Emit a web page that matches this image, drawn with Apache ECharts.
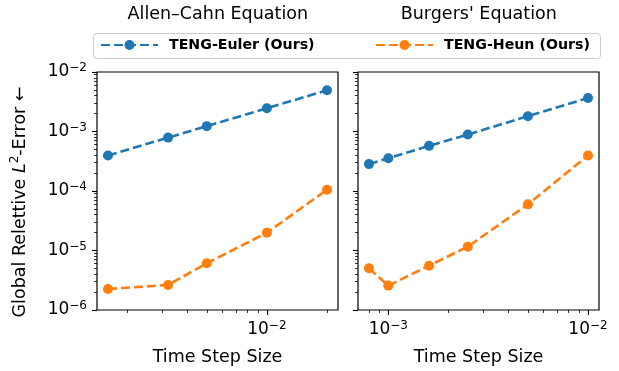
<!DOCTYPE html>
<html>
<head>
<meta charset="utf-8">
<script src="https://cdn.jsdelivr.net/npm/echarts@6/dist/echarts.min.js"></script>
<style>
  html, body { margin: 0; padding: 0; background: #fff; }
  #chart { width: 619px; height: 371px; }
</style>
</head>
<body>
<div id="chart"></div>
<script>
// 数据
var titles = ['Allen\u2013Cahn Equation', "Burgers' Equation"];
var seriesNames = ['TENG-Euler (Ours)', 'TENG-Heun (Ours)'];

// Allen-Cahn
var acSteps = [0.0016, 0.0032, 0.005, 0.01, 0.02];
var acEuler = [3.95e-4, 7.9e-4, 1.23e-3, 2.46e-3, 4.93e-3];
var acHeun = [2.26e-6, 2.64e-6, 6.1e-6, 1.99e-5, 1.05e-4];

// Burgers
var bgSteps = [0.0008, 0.001, 0.0016, 0.0025, 0.005, 0.01];
var bgEuler = [2.83e-4, 3.56e-4, 5.74e-4, 8.9e-4, 1.81e-3, 3.66e-3];
var bgHeun = [5.02e-6, 2.57e-6, 5.56e-6, 1.16e-5, 5.96e-5, 3.96e-4];

// 刻度
var acXMajor = [0.01];
var acXMinor = [0.002, 0.003, 0.004, 0.005, 0.006, 0.007, 0.008, 0.009, 0.02];
var bgXMajor = [0.001, 0.01];
var bgXMinor = [0.0008, 0.0009, 0.002, 0.003, 0.004, 0.005, 0.006, 0.007, 0.008, 0.009];
var yMajor = [1e-6, 1e-5, 1e-4, 1e-3, 1e-2];
var yMinor = [];
[1e-6, 1e-5, 1e-4, 1e-3].forEach(function (d) {
    for (var k = 2; k <= 9; k++) yMinor.push(+(k * d).toPrecision(3));
});

var colors = ['#1f77b4', '#ff7f0e'];
var font = 'DejaVu Sans';

function pairs(xs, ys) {
    return xs.map(function (x, i) { return [x, ys[i]]; });
}

function powLabel(v) {
    var e = Math.round(Math.log10(v));
    return '{b|10}{s|' + (e < 0 ? '\u2212' : '') + Math.abs(e) + '}';
}

var labelRich = {
    b: { fontFamily: font, fontSize: 17, color: '#000', lineHeight: 20 },
    s: { fontFamily: font, fontSize: 12, color: '#000', verticalAlign: 'top', lineHeight: 20, padding: [0, 0, 6, 0] }
};

var grids = [
    { left: 97, right: 281, top: 72, bottom: 61 },
    { left: 358, right: 20, top: 72, bottom: 61 }
];
grids.forEach(function (g) {
    g.show = true;
    g.borderColor = '#000';
    g.borderWidth = 1.2;
    g.backgroundColor = 'transparent';
});

function xAxes(gridIndex, min, max, major, minor) {
    return [{
        type: 'log', gridIndex: gridIndex, min: min, max: max, position: 'bottom',
        name: 'Time Step Size', nameLocation: 'middle', nameGap: 38,
        nameTextStyle: { fontFamily: font, fontSize: 17.5, color: '#000' },
        axisLine: { show: false },
        axisTick: { show: true, length: 5, customValues: major, lineStyle: { color: '#000', width: 1.1 } },
        axisLabel: { customValues: major, margin: 10, formatter: powLabel, rich: labelRich },
        splitLine: { show: false }
    }, {
        type: 'log', gridIndex: gridIndex, min: min, max: max, position: 'bottom',
        axisLine: { show: false },
        axisTick: { show: true, length: 3, customValues: minor, lineStyle: { color: '#000', width: 0.8 } },
        axisLabel: { show: false },
        splitLine: { show: false }
    }];
}

function yAxes(gridIndex, showLabel) {
    var main = {
        type: 'log', gridIndex: gridIndex, min: 1e-6, max: 1e-2, position: 'left',
        axisLine: { show: false },
        axisTick: { show: true, length: 5, customValues: yMajor, lineStyle: { color: '#000', width: 1.1 } },
        axisLabel: { show: showLabel, customValues: yMajor, margin: 10, formatter: powLabel, rich: labelRich },
        splitLine: { show: false }
    };
    if (showLabel) {
        main.name = '{n|Global Relettive }{i|L}{s|2}{n|-Error \u2190}';
        main.nameLocation = 'middle';
        main.nameGap = 66;
        main.nameRotate = 90;
        main.nameTextStyle = {
            padding: [0, 22, 0, 0],
            rich: {
                n: { fontFamily: font, fontSize: 17.5, color: '#000', lineHeight: 22 },
                i: { fontFamily: font, fontSize: 17.5, fontStyle: 'italic', color: '#000', lineHeight: 22 },
                s: { fontFamily: font, fontSize: 12, color: '#000', verticalAlign: 'top', lineHeight: 22, padding: [0, 0, 7, 0] }
            }
        };
    }
    return [main, {
        type: 'log', gridIndex: gridIndex, min: 1e-6, max: 1e-2, position: 'left',
        axisLine: { show: false },
        axisTick: { show: true, length: 3, customValues: yMinor, lineStyle: { color: '#000', width: 0.8 } },
        axisLabel: { show: false },
        splitLine: { show: false }
    }];
}

function lineSeries(name, color, xIdx, yIdx, data) {
    return {
        name: name, type: 'line', xAxisIndex: xIdx, yAxisIndex: yIdx,
        data: data, symbol: 'circle', symbolSize: 10,
        color: color,
        itemStyle: { color: color },
        lineStyle: { color: color, width: 2.6, type: [9, 4] },
        animation: false
    };
}

var legendBase = {
    top: 38, padding: 0, itemWidth: 57, itemHeight: 12.5,
    textStyle: { fontFamily: font, fontSize: 14.2, fontWeight: 'bold', color: '#000', padding: [0, 0, 0, 6] }
};

var option = {
    animation: false,
    backgroundColor: '#fff',
    title: [
        { text: titles[0], left: 217.8, textAlign: 'center', top: 5, padding: 0,
          textStyle: { fontFamily: font, fontSize: 17.5, fontWeight: 'normal', color: '#000' } },
        { text: titles[1], left: 478.8, textAlign: 'center', top: 5, padding: 0,
          textStyle: { fontFamily: font, fontSize: 17.5, fontWeight: 'normal', color: '#000' } }
    ],
    graphic: [{
        type: 'rect', left: 93, top: 33, z: 10,
        shape: { width: 507, height: 25, r: 3 },
        style: { fill: 'rgba(255,255,255,0.8)', stroke: '#cccccc', lineWidth: 1 }
    }],
    legend: [
        Object.assign({ left: 100, data: [seriesNames[0]], z: 20 }, legendBase),
        Object.assign({ left: 375, data: [seriesNames[1]], z: 20 }, legendBase)
    ],
    grid: grids,
    xAxis: xAxes(0, 0.00141, 0.0227, acXMajor, acXMinor)
        .concat(xAxes(1, 0.000705, 0.01135, bgXMajor, bgXMinor)),
    yAxis: yAxes(0, true).concat(yAxes(1, false)),
    series: [
        lineSeries(seriesNames[0], colors[0], 0, 0, pairs(acSteps, acEuler)),
        lineSeries(seriesNames[1], colors[1], 0, 0, pairs(acSteps, acHeun)),
        lineSeries(seriesNames[0], colors[0], 2, 2, pairs(bgSteps, bgEuler)),
        lineSeries(seriesNames[1], colors[1], 2, 2, pairs(bgSteps, bgHeun))
    ]
};

var chart = echarts.init(document.getElementById('chart'), null, { renderer: 'canvas' });
chart.setOption(option);
</script>
</body>
</html>
